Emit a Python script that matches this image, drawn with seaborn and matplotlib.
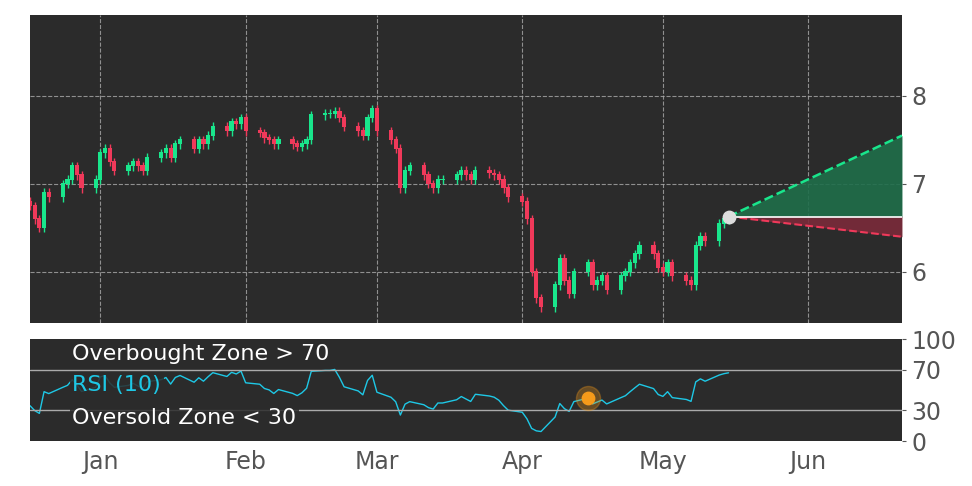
import numpy as np
import pandas as pd
import matplotlib
matplotlib.use("Agg")
import matplotlib.pyplot as plt
import seaborn as sns

closes = [6.75,6.6,6.5,6.9,6.85,7.0,7.05,7.2,7.1,6.95,7.05,
          7.35,7.4,7.25,7.15,7.2,7.25,7.2,7.15,7.3,7.35,7.4,7.3,7.45,7.5,7.4,7.5,7.45,7.55,7.65,7.6,7.7,7.68,7.75,
          7.6,7.58,7.52,7.5,7.45,7.5,7.45,7.42,7.45,7.5,7.78,7.8,7.8,7.82,7.75,7.65,7.6,7.55,7.75,7.85,
          7.6,7.5,7.4,6.95,7.15,7.2,7.1,7.0,6.95,7.05,7.05,7.1,7.15,7.1,7.05,7.15,7.12,7.1,7.05,6.95,6.85,
          6.8,6.6,6.0,5.7,5.6,5.85,6.15,5.9,5.75,6.0,6.1,5.85,5.9,5.95,5.8,5.95,6.0,6.1,6.2,6.3,6.2,6.05,
          6.0,6.1,5.95,5.9,5.85,6.3,6.4,6.35,6.55,6.6,6.63]
dates = pd.bdate_range("2018-12-17", "2019-05-15")
first_open = 6.8
forecast_dates = [pd.Timestamp("2019-05-15"), pd.Timestamp("2019-06-21")]
forecast_upper = [6.63, 7.55]
forecast_lower = [6.63, 6.40]
forecast_mid = [6.63, 6.63]
month_ticks = ["2019-01-01", "2019-02-01", "2019-03-01", "2019-04-01", "2019-05-01", "2019-06-01"]
month_labels = ["Jan", "Feb", "Mar", "Apr", "May", "Jun"]
marker_date = pd.Timestamp("2019-04-15")

closes = np.array(closes)
opens = np.concatenate([[first_open], closes[:-1]])
highs = np.maximum(opens, closes) + 0.05
lows = np.minimum(opens, closes) - 0.05

# RSI(10), seeded with a neutral-ish average
delta = np.diff(closes, prepend=first_open)
gain = pd.Series(np.concatenate([[0.04], np.clip(delta, 0, None)])).ewm(alpha=1/10, adjust=False).mean().values[1:]
loss = pd.Series(np.concatenate([[0.07], np.clip(-delta, 0, None)])).ewm(alpha=1/10, adjust=False).mean().values[1:]
rsi = 100 - 100 / (1 + gain / np.maximum(loss, 1e-9))
rsi_df = pd.DataFrame({"date": dates, "rsi": rsi})

sns.set_style("dark")
plt.rcParams["font.family"] = ["DejaVu Sans"]
bg = "#2b2b2b"
fig = plt.figure(figsize=(9.72, 4.86), dpi=100, facecolor="white")
ax = fig.add_axes([30/972, 1-323/486, 872/972, 308/486])
ax2 = fig.add_axes([30/972, 1-441/486, 872/972, 102/486])
green, red = "#19e68c", "#f0395a"
for a in (ax, ax2):
    a.set_facecolor(bg)
    for s in a.spines.values():
        s.set_visible(False)
    a.set_xlim(pd.Timestamp("2018-12-17"), pd.Timestamp("2019-06-21"))
    a.yaxis.tick_right()
    a.tick_params(colors="#555555", labelsize=17, length=3)

cols = [green if c >= o else red for o, c in zip(opens, closes)]
ax.vlines(dates, lows, highs, colors=cols, linewidth=1)
ax.bar(dates, np.abs(closes - opens) + 0.01, bottom=np.minimum(opens, closes), width=0.9,
       color=cols, edgecolor="none", linewidth=0)
ax.fill_between(forecast_dates, forecast_mid, forecast_upper, color="#1f6e4a", alpha=0.9, lw=0)
ax.fill_between(forecast_dates, forecast_lower, forecast_mid, color="#7a2a3a", alpha=0.9, lw=0)
ax.plot(forecast_dates, forecast_upper, "--", color=green, lw=1.8)
ax.plot(forecast_dates, forecast_lower, "--", color=red, lw=1.5)
ax.plot(forecast_dates, forecast_mid, "-", color="white", lw=1.2)
ax.scatter([forecast_dates[0]], [forecast_mid[0]], s=80, color="#dddddd", zorder=5)
ax.set_ylim(5.42, 8.92)
ax.set_yticks([6, 7, 8])
ax.set_xticks(pd.to_datetime(month_ticks))
ax.set_xticklabels([])
ax.grid(True, color="#aaaaaa", linestyle="--", linewidth=0.8, alpha=0.8)

sns.lineplot(data=rsi_df, x="date", y="rsi", ax=ax2, color="#1ec8e6", lw=1)
ax2.axhline(70, color="#aaaaaa", lw=1)
ax2.axhline(30, color="#aaaaaa", lw=1)
mr = rsi_df.loc[rsi_df.date == marker_date, "rsi"].values[0]
ax2.scatter([marker_date], [mr], s=300, color="#f59a1a", alpha=0.3, zorder=5)
ax2.scatter([marker_date], [mr], s=80, color="#f59a1a", zorder=6)
ax2.set_ylim(0, 100)
ax2.set_yticks([0, 30, 70, 100])
ax2.set_xticks(pd.to_datetime(month_ticks))
ax2.set_xticklabels(month_labels)
ax2.set_xlabel(""); ax2.set_ylabel("")
ax2.grid(False)
bb = dict(facecolor=bg, edgecolor="none", alpha=0.85, pad=2)
ax2.text(pd.Timestamp("2018-12-26"), 85, "Overbought Zone > 70", color="white", fontsize=16, va="center", bbox=bb)
ax2.text(pd.Timestamp("2018-12-26"), 55, "RSI (10)", color="#1ec8e6", fontsize=16, va="center", bbox=bb)
ax2.text(pd.Timestamp("2018-12-26"), 23, "Oversold Zone < 30", color="white", fontsize=16, va="center", bbox=bb)
fig.savefig("out.png", dpi=100, facecolor="white")
